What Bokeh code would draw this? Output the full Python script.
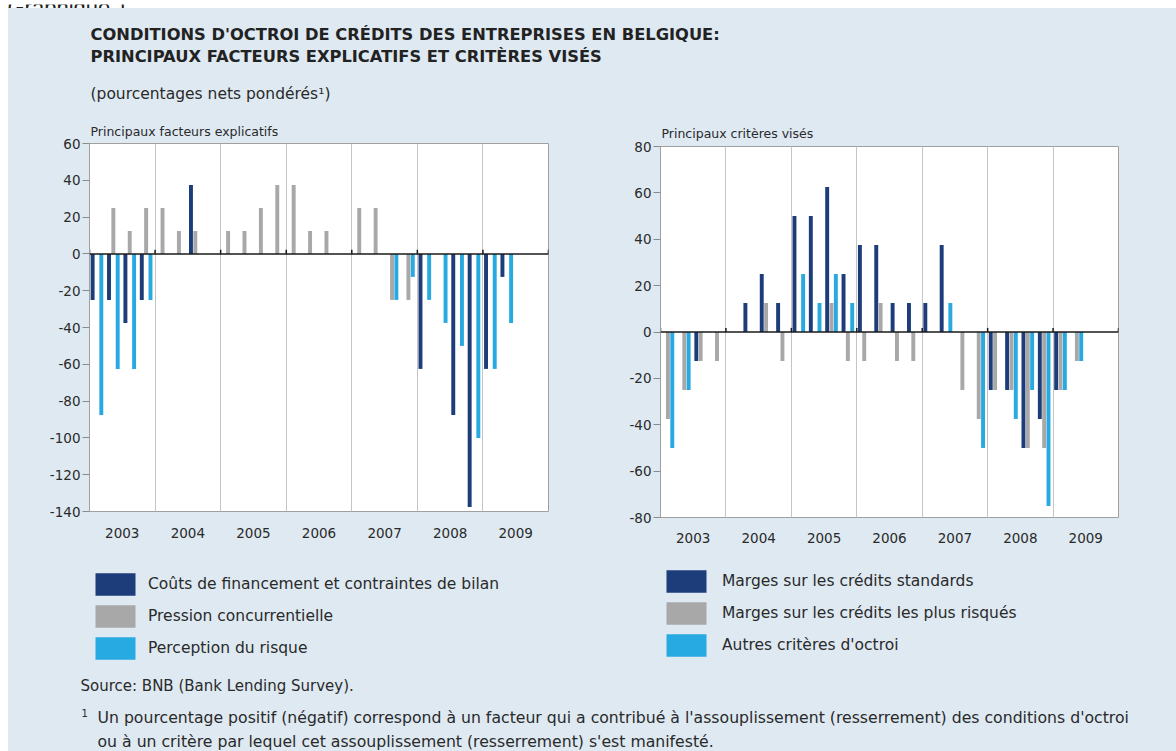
from bokeh.plotting import figure
from bokeh.models import (Range1d, FixedTicker, SingleIntervalTicker, Span, Legend, LegendItem,
                          ColumnDataSource, PrintfTickFormatter, Spacer)
from bokeh.transform import dodge
from bokeh.layouts import column, row
from bokeh.embed import file_html
from bokeh.resources import INLINE
from bokeh.core.properties import value

# ---------------- data ----------------
years = ["2003", "2004", "2005", "2006", "2007", "2008", "2009"]
quarters = [f"{y}T{q}" for y in years for q in (1, 2, 3, 4)][:26]

# Principaux facteurs explicatifs
couts = [-25, -25, -37.5, -25,   0, 0, 37.5, 0,   0, 0, 0, 0,   0, 0, 0, 0,
         0, 0, 0, 0,   -62.5, 0, -87.5, -137.5,   -62.5, -12.5]
pression = [0, 25, 12.5, 25,   25, 12.5, 12.5, 0,   12.5, 12.5, 25, 37.5,   37.5, 12.5, 12.5, 0,
            25, 25, -25, -25,   0, 0, 0, 0,   0, 0]
risque = [-87.5, -62.5, -62.5, -25,   0, 0, 0, 0,   0, 0, 0, 0,   0, 0, 0, 0,
          0, 0, -25, -12.5,   -25, -37.5, -50, -100,   -62.5, -37.5]

# Principaux critères visés
standards = [0, 0, -12.5, 0,   0, 12.5, 25, 12.5,   50, 50, 62.5, 25,   37.5, 37.5, 12.5, 12.5,
             12.5, 37.5, 0, 0,   -25, -25, -50, -37.5,   -25, 0]
risques = [-37.5, -25, -12.5, -12.5,   0, 0, 12.5, -12.5,   0, 0, 12.5, -12.5,   -12.5, 12.5, -12.5, -12.5,
           0, 0, -25, -37.5,   -25, -25, -50, -50,   -25, -12.5]
autres = [-50, -25, 0, 0,   0, 0, 0, 0,   25, 12.5, 25, 12.5,   0, 0, 0, 0,
          0, 12.5, 0, -50,   0, -37.5, -25, -75,   -25, -12.5]

labels_left = ["Coûts de financement et contraintes de bilan", "Pression concurrentielle", "Perception du risque"]
labels_right = ["Marges sur les crédits standards", "Marges sur les crédits les plus risqués", "Autres critères d'octroi"]

# ---------------- style ----------------
BG = "#dee9f2"
DARK = "#1c3d7a"
GRAY = "#a8a8a8"
LIGHT = "#27a9e1"
COLORS = (DARK, GRAY, LIGHT)
TXT = "#2a2a2a"
FN = "DejaVu Sans"
FONT = value(FN)
NQ = len(years) * 4


def hide(f, bg):
    f.axis.visible = False
    f.grid.visible = False
    f.outline_line_color = None
    f.background_fill_color = bg
    f.border_fill_color = bg


def textfig(w, h, bg=BG):
    f = figure(width=w, height=h, x_range=Range1d(0, w), y_range=Range1d(h, 0),
               output_backend="svg", toolbar_location=None, min_border=0)
    hide(f, bg)
    return f


def panel(title, series, yr, width, height, bl, br, bt, bb, xstand, tstand):
    p = figure(width=width, height=height, x_range=Range1d(0, NQ), y_range=Range1d(*yr),
               output_backend="svg", toolbar_location=None,
               min_border_left=bl, min_border_right=br, min_border_top=bt, min_border_bottom=bb)
    p.background_fill_color = "white"
    p.border_fill_color = BG
    p.outline_line_color = "#a0a0a0"
    p.title.text = title
    p.title.text_font = FN
    p.title.text_font_size = "12.5px"
    p.title.text_font_style = "normal"
    p.title.text_color = TXT
    p.title.align = "left"
    p.title.offset = 1
    p.title.standoff = tstand

    src = ColumnDataSource(dict(pos=list(range(len(quarters))), q=quarters,
                                a=series[0], b=series[1], c=series[2]))
    for col, off, color in zip(("a", "b", "c"), (0.19, 0.455, 0.72), COLORS):
        p.vbar(x=dodge("pos", off, range=p.x_range), top=col, bottom=0, width=0.24,
               source=src, fill_color=color, line_color=None)

    p.add_layout(Span(location=0, dimension="width", line_color="#1a1a1a", line_width=1.5))

    # short marks on the zero line at each year boundary
    bounds = [4 * i for i in range(len(years) + 1)]
    tick_h = (yr[1] - yr[0]) * 0.011
    p.segment(x0=bounds, y0=[0] * len(bounds), x1=bounds, y1=[tick_h] * len(bounds),
              line_color="#1a1a1a", line_width=1.5)

    p.yaxis.ticker = SingleIntervalTicker(interval=20)
    p.yaxis.formatter = PrintfTickFormatter(format="%d")
    p.yaxis.major_label_text_font = FN
    p.yaxis.major_label_text_font_size = "13.5px"
    p.yaxis.major_label_text_color = TXT
    p.yaxis.axis_line_color = "#a0a0a0"
    p.yaxis.major_tick_line_color = "#8a8a8a"
    p.yaxis.major_tick_out = 7
    p.yaxis.major_tick_in = 0
    p.yaxis.minor_tick_line_color = None
    p.yaxis.major_label_standoff = 2

    centers = [4 * i + 2 for i in range(len(years))]
    p.xaxis.ticker = FixedTicker(ticks=centers)
    p.xaxis.major_label_overrides = {c: y for c, y in zip(centers, years)}
    p.xaxis.major_label_text_font = FN
    p.xaxis.major_label_text_font_size = "13.5px"
    p.xaxis.major_label_text_color = TXT
    p.xaxis.axis_line_color = None
    p.xaxis.major_tick_line_color = None
    p.xaxis.major_tick_out = 0
    p.xaxis.minor_tick_line_color = None
    p.xaxis.major_label_standoff = xstand

    p.xgrid.ticker = FixedTicker(ticks=[4 * i for i in range(1, len(years))])
    p.xgrid.grid_line_color = "#c4c4c4"
    p.ygrid.grid_line_color = None
    return p


def legend_fig(width, labels, loc, standoff):
    f = figure(width=width, height=115, x_range=Range1d(0, 1), y_range=Range1d(0, 1),
               output_backend="svg", toolbar_location=None, min_border=0)
    hide(f, BG)
    # zero-height key renderers: they only carry the colours for the legend keys
    keys = [f.vbar(x=[0], top=[0], bottom=0, width=0.01, fill_color=c, line_color=None)
            for c in COLORS]
    leg = Legend(items=[LegendItem(label=l, renderers=[r]) for l, r in zip(labels, keys)],
                 location=loc, orientation="vertical",
                 glyph_width=50, glyph_height=28, spacing=4, padding=0, margin=0,
                 label_text_font=FN, label_text_font_size="15.5px", label_text_color=TXT,
                 label_standoff=standoff, background_fill_alpha=0, border_line_color=None)
    f.add_layout(leg)
    return f


left = panel("Principaux facteurs explicatifs", (couts, pression, risque),
             (-140, 60), 596, 436, 81, 56, 29, 39, 16, 9)
right = panel("Principaux critères visés", (standards, risques, autres),
              (-80, 80), 572, 433, 56, 58, 29, 33, 15, 12)
left_leg = legend_fig(596, labels_left, (1, 3), 8)
right_leg = legend_fig(572, labels_right, (1, 6), 11)

# top strip (white page band with the cut-off caption)
top = textfig(1176, 8, bg="white")
top.text(x=[7], y=[3], text=["Graphique 1"], text_font=value("Liberation Sans"),
         text_font_size="22px", text_baseline="alphabetic", text_color="#222222")

header = textfig(1168, 106)
header.text(x=[82, 82], y=[26, 48],
            text=["CONDITIONS D'OCTROI DE CRÉDITS DES ENTREPRISES EN BELGIQUE:",
                  "PRINCIPAUX FACTEURS EXPLICATIFS ET CRITÈRES VISÉS"],
            text_font=FONT, text_font_size="16.3px", text_font_style="bold",
            text_baseline="middle", text_color="#222222")
header.text(x=[82], y=[85], text=["(pourcentages nets pondérés¹)"],
            text_font=FONT, text_font_size="15.5px", text_baseline="middle", text_color=TXT)

footer = textfig(1168, 86)
footer.text(x=[72], y=[20], text=["Source: BNB (Bank Lending Survey)."],
            text_font=FONT, text_font_size="15px", text_baseline="middle", text_color=TXT)
footer.text(x=[73], y=[47], text=["1"],
            text_font=FONT, text_font_size="10px", text_baseline="middle", text_color=TXT)
footer.text(x=[89, 89], y=[52, 76],
            text=["Un pourcentage positif (négatif) correspond à un facteur qui a contribué à l'assouplissement (resserrement) des conditions d'octroi",
                  "ou à un critère par lequel cet assouplissement (resserrement) s'est manifesté."],
            text_font=FONT, text_font_size="15.7px", text_baseline="middle", text_color=TXT)

panels = row(column(left, left_leg), column(Spacer(width=572, height=3), right, right_leg))
inner = column(header, panels, footer, styles={"background-color": BG})
layout = column(top, row(Spacer(width=8, height=743), inner))
open("out.html", "w").write(file_html(layout, INLINE))
